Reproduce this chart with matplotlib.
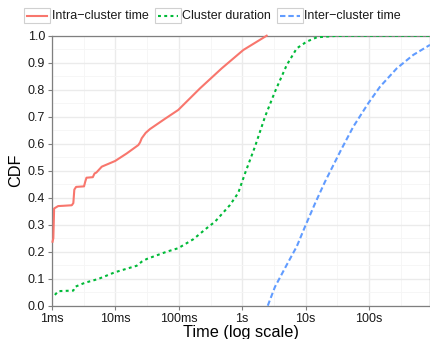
import matplotlib
matplotlib.use("Agg")
import matplotlib.pyplot as plt
from matplotlib.patches import Rectangle
from matplotlib.lines import Line2D
from matplotlib.ticker import FixedLocator, NullFormatter

plt.rcParams['font.family'] = ['Liberation Sans', 'DejaVu Sans']

# ---- data (time in seconds, CDF) ----
intra_t = [1.02e-3, 1.05e-3, 1.08e-3, 1.25e-3, 1.5e-3, 2.05e-3, 2.17e-3, 2.25e-3, 2.4e-3,
           3.2e-3, 3.35e-3, 3.5e-3, 4.4e-3, 4.7e-3, 5.0e-3, 6.1e-3, 9.9e-3, 15.1e-3,
           23e-3, 24.5e-3, 26e-3, 30e-3, 35e-3, 58.6e-3, 98e-3, 216e-3, 475e-3, 1.04, 2.43]
intra_cdf = [0.237, 0.25, 0.36, 0.369, 0.37, 0.372, 0.38, 0.43, 0.44,
             0.442, 0.46, 0.474, 0.476, 0.49, 0.493, 0.515, 0.536, 0.564,
             0.595, 0.605, 0.62, 0.64, 0.654, 0.69, 0.725, 0.805, 0.879, 0.947, 1.0]

dur_t = [1.11e-3, 1.26e-3, 2.17e-3, 2.31e-3, 3.31e-3, 5.37e-3, 9.86e-3, 21.7e-3, 26e-3,
         31.2e-3, 64.4e-3, 98e-3, 169e-3, 275e-3, 372e-3, 642e-3, 769e-3, 867e-3, 1.107,
         1.59, 2.29, 3.29, 5.03, 7.24, 10.4, 15.0, 29.1, 50.0, 916.0]
dur_cdf = [0.04, 0.054, 0.056, 0.07, 0.085, 0.099, 0.124, 0.148, 0.163,
           0.173, 0.2, 0.213, 0.246, 0.287, 0.311, 0.373, 0.400, 0.418, 0.49,
           0.589, 0.70, 0.793, 0.891, 0.953, 0.978, 0.994, 0.999, 1.0, 1.0]

inter_t = [2.53, 3.29, 5.03, 7.24, 9.79, 14.1, 20.2, 36.2, 56.5, 97.5, 149, 274, 500, 916]
inter_cdf = [0.0, 0.07, 0.151, 0.219, 0.293, 0.379, 0.459, 0.577, 0.663, 0.75, 0.811,
             0.879, 0.929, 0.966]

series_names = ['Intra\u2212cluster time', 'Cluster duration', 'Inter\u2212cluster time']
series_colors = ['#F8766D', '#00BA38', '#619CFF']

xtick_vals = [1e-3, 1e-2, 1e-1, 1, 10, 100]
xtick_labels = ['1ms', '10ms', '100ms', '1s', '10s', '100s']
ytick_vals = [i / 10 for i in range(11)]

W, H = 430, 339
fig = plt.figure(figsize=(W / 100, H / 100), dpi=100)
ax = fig.add_axes([52 / W, 1 - 305.7 / H, 378 / W, 270 / H])

styles = ['-', (0, (1.4, 1.6)), (0, (2.6, 1.4))]
data = [(intra_t, intra_cdf), (dur_t, dur_cdf), (inter_t, inter_cdf)]
for (t, c), col, ls in zip(data, series_colors, styles):
    ax.plot(t, c, color=col, lw=1.5, linestyle=ls, zorder=3,
            clip_on=False if ls == '-' else True, solid_joinstyle='round')

ax.set_xscale('log')
ax.set_xlim(1e-3, 916)
ax.set_ylim(0, 1)
ax.set_xticks(xtick_vals)
ax.set_xticklabels(xtick_labels)
ax.xaxis.set_minor_locator(FixedLocator([10 ** (k + 0.5) for k in range(-3, 3)]))
ax.xaxis.set_minor_formatter(NullFormatter())
ax.set_yticks(ytick_vals)
ax.set_yticklabels(['%.1f' % v for v in ytick_vals])
ax.yaxis.set_minor_locator(FixedLocator([i / 10 + 0.05 for i in range(10)]))

ax.grid(which='major', color='#EBEBEB', lw=1.0, zorder=0)
ax.grid(which='minor', color='#F5F5F5', lw=0.6, zorder=0)
ax.set_axisbelow(True)
for s in ax.spines.values():
    s.set_color('#7F7F7F')
    s.set_linewidth(0.9)
ax.tick_params(which='major', direction='out', length=3, width=0.8, color='#7F7F7F',
               labelsize=9, labelcolor='#1A1A1A', pad=2)
ax.tick_params(which='minor', length=0)

ax.set_xlabel('Time (log scale)', fontsize=11.7, labelpad=0)
ax.set_ylabel('CDF', fontsize=11.7, labelpad=3)

# ---- legend (manual, ggplot-like keys) ----
def fx(px):
    return px / W

def fy(py):
    return 1 - py / H

key_x = [24, 154.5, 276.7]
txt_x = [51.7, 182.3, 304.3]
ky0, ky1 = 7.8, 23.3
for kx, tx, name, col, ls in zip(key_x, txt_x, series_names, series_colors, styles):
    fig.patches.append(Rectangle((fx(kx), fy(ky1)), fx(26), (ky1 - ky0) / H,
                                 transform=fig.transFigure, facecolor='white',
                                 edgecolor='#D0D0D0', lw=0.8))
    fig.lines.append(Line2D([fx(kx + 3), fx(kx + 23)], [fy(15.5), fy(15.5)],
                            transform=fig.transFigure, color=col, lw=1.5, linestyle=ls))
    fig.text(fx(tx), fy(15.8), name, fontsize=9, va='center', ha='left', color='#1A1A1A')

fig.savefig('out.png', dpi=100)
